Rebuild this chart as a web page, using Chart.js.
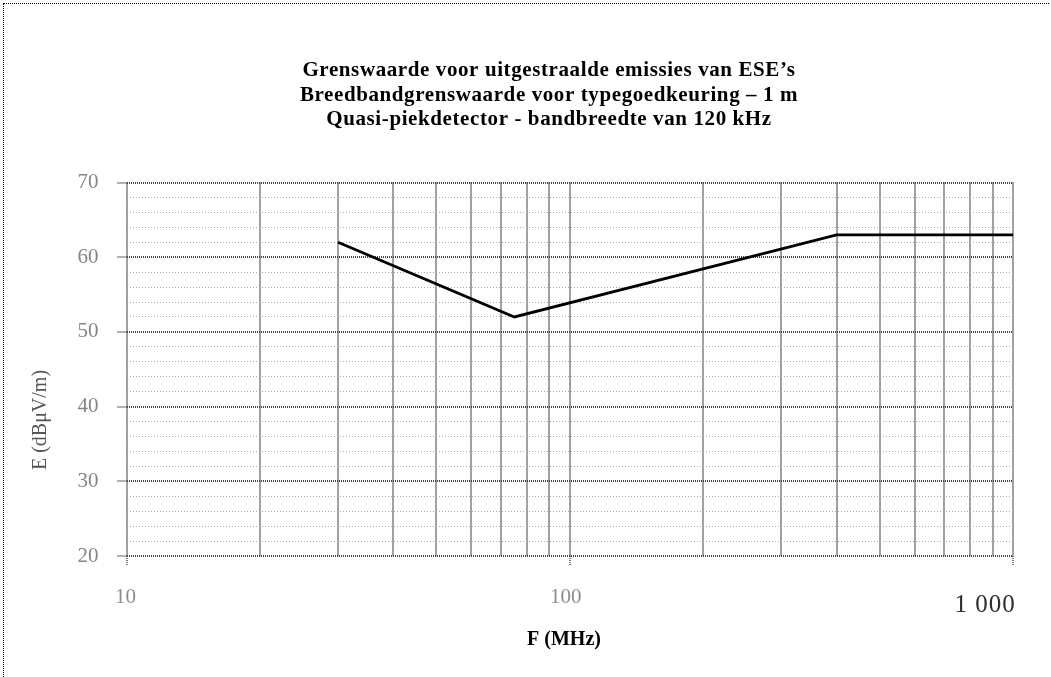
<!DOCTYPE html>
<html>
<head>
<meta charset="utf-8">
<title>Grenswaarde voor uitgestraalde emissies van ESE's</title>
<script src="https://cdn.jsdelivr.net/npm/chart.js@4.4.1/dist/chart.umd.min.js"></script>
<style>
  html, body { margin: 0; padding: 0; background: #fff; }
  #wrap { position: relative; width: 1051px; height: 677px; overflow: hidden; }
  #frame { position: absolute; left: 3px; top: 3px; right: 2px; bottom: -10px;
           border-left: 1px dotted #000; border-top: 1px dotted #000; pointer-events: none; }
  canvas { position: absolute; left: 0; top: 0; }
</style>
</head>
<body>
<div id="wrap">
  <canvas id="chart" width="1051" height="677"></canvas>
  <div id="frame"></div>
</div>
<script>
// Chart text
const titleLines = [
  'Grenswaarde voor uitgestraalde emissies van ESE\u2019s',
  'Breedbandgrenswaarde voor typegoedkeuring \u2013 1 m',
  'Quasi-piekdetector - bandbreedte van 120 kHz'
];
const xAxisTitle = 'F (MHz)';
const yAxisTitle = 'E (dB\u03bcV/m)';

// Limit line: frequency (MHz) and field strength (dBµV/m)
const freqMHz = [30, 75, 400, 1000];
const limitDb = [62, 52, 63, 63];

// Axis ranges and ticks
const xMin = 10, xMax = 1000;
const yMin = 20, yMax = 70, yMinorStep = 2, yMajorStep = 10;
const xGridValues = [10, 20, 30, 40, 50, 60, 70, 80, 90,
                     100, 200, 300, 400, 500, 600, 700, 800, 900, 1000];
const xLabelValues = [10, 100, 1000];
const xLabelTexts = ['10', '100', '1 000'];

const SERIF = '"Liberation Serif", "DejaVu Serif", serif';
const DARK_GRID = '#444';
const LIGHT_GRID = '#a8a8a8';

const isMajorY = v => Math.abs(v % yMajorStep) < 1e-9;
const isLabeledX = v => xLabelValues.includes(v);

// Heading above the plot and the two axis captions
const headingPlugin = {
  id: 'heading',
  afterDraw(chart) {
    const ctx = chart.ctx;
    ctx.save();
    ctx.fillStyle = '#000';
    ctx.font = 'bold 21px ' + SERIF;
    ctx.letterSpacing = '0.6px';
    ctx.textAlign = 'center';
    ctx.textBaseline = 'middle';
    const cx = 549, y0 = 71, step = 24.5;
    titleLines.forEach((t, i) => ctx.fillText(t, cx, y0 + i * step));
    ctx.restore();

    ctx.save();
    ctx.font = 'bold 20px ' + SERIF;
    ctx.fillStyle = '#000';
    ctx.textAlign = 'center';
    ctx.textBaseline = 'middle';
    ctx.fillText(xAxisTitle, 564, 640);
    ctx.restore();

    ctx.save();
    ctx.translate(41, 420);
    ctx.rotate(-Math.PI / 2);
    ctx.font = '20px ' + SERIF;
    ctx.fillStyle = '#555';
    ctx.textAlign = 'center';
    ctx.textBaseline = 'middle';
    ctx.fillText(yAxisTitle, 0, 0);
    ctx.restore();
  }
};

// Decade labels under the frequency axis
const xLabelPlugin = {
  id: 'xLabels',
  afterDraw(chart) {
    const ctx = chart.ctx;
    const xs = chart.scales.x;
    const style = [
      { font: '21px ' + SERIF, color: '#8c8c8c', dx: -1,  y: 597, ls: '0px' },
      { font: '21px ' + SERIF, color: '#8c8c8c', dx: -4,  y: 597, ls: '0px' },
      { font: '25px ' + SERIF, color: '#2e2e2e', dx: -28, y: 605, ls: '1px' }
    ];
    ctx.save();
    ctx.textAlign = 'center';
    ctx.textBaseline = 'middle';
    xLabelValues.forEach((v, i) => {
      const s = style[i];
      ctx.font = s.font;
      ctx.letterSpacing = s.ls;
      ctx.fillStyle = s.color;
      ctx.fillText(xLabelTexts[i], xs.getPixelForValue(v) + s.dx, s.y);
    });
    ctx.restore();
  }
};

new Chart(document.getElementById('chart'), {
  type: 'line',
  data: {
    datasets: [{
      data: freqMHz.map((f, i) => ({ x: f, y: limitDb[i] })),
      borderColor: '#000',
      borderWidth: 2.8,
      pointRadius: 0,
      tension: 0,
      fill: false
    }]
  },
  options: {
    responsive: false,
    animation: false,
    devicePixelRatio: 1,
    layout: { padding: { left: 0, right: 38, top: 182.5, bottom: 0 } },
    plugins: {
      legend: { display: false },
      title: { display: false },
      tooltip: { enabled: false }
    },
    scales: {
      x: {
        type: 'logarithmic',
        min: xMin,
        max: xMax,
        afterBuildTicks(scale) {
          scale.ticks = xGridValues.map(v => ({ value: v, major: isLabeledX(v) }));
        },
        afterFit(scale) { scale.height = 121; },
        ticks: { display: false },
        grid: {
          color: DARK_GRID,
          lineWidth: 2,
          drawTicks: true,
          tickLength: 9,
          tickWidth: 2,
          tickColor: ctx => (ctx.tick && isLabeledX(ctx.tick.value)) ? '#777' : 'rgba(0,0,0,0)',
          tickBorderDash: [1, 1]
        },
        border: { display: false, dash: [1, 1] },
        title: { display: false }
      },
      y: {
        type: 'linear',
        min: yMin,
        max: yMax,
        afterFit(scale) { scale.width = 126.5; },
        ticks: {
          stepSize: yMinorStep,
          autoSkip: false,
          padding: 19,
          color: '#858585',
          font: { family: SERIF, size: 21 },
          callback: v => isMajorY(v) ? String(v) : ''
        },
        grid: {
          color: ctx => (ctx.tick && isMajorY(ctx.tick.value)) ? DARK_GRID : LIGHT_GRID,
          lineWidth: ctx => (ctx.tick && isMajorY(ctx.tick.value)) ? 2 : 1,
          drawTicks: true,
          tickLength: 9,
          tickWidth: 2,
          tickColor: ctx => (ctx.tick && isMajorY(ctx.tick.value)) ? '#666' : 'rgba(0,0,0,0)',
          tickBorderDash: [1, 1]
        },
        border: {
          display: false,
          dash: ctx => (ctx.tick && isMajorY(ctx.tick.value)) ? [1, 1] : [1, 2]
        },
        title: { display: false }
      }
    }
  },
  plugins: [headingPlugin, xLabelPlugin]
});
</script>
</body>
</html>
